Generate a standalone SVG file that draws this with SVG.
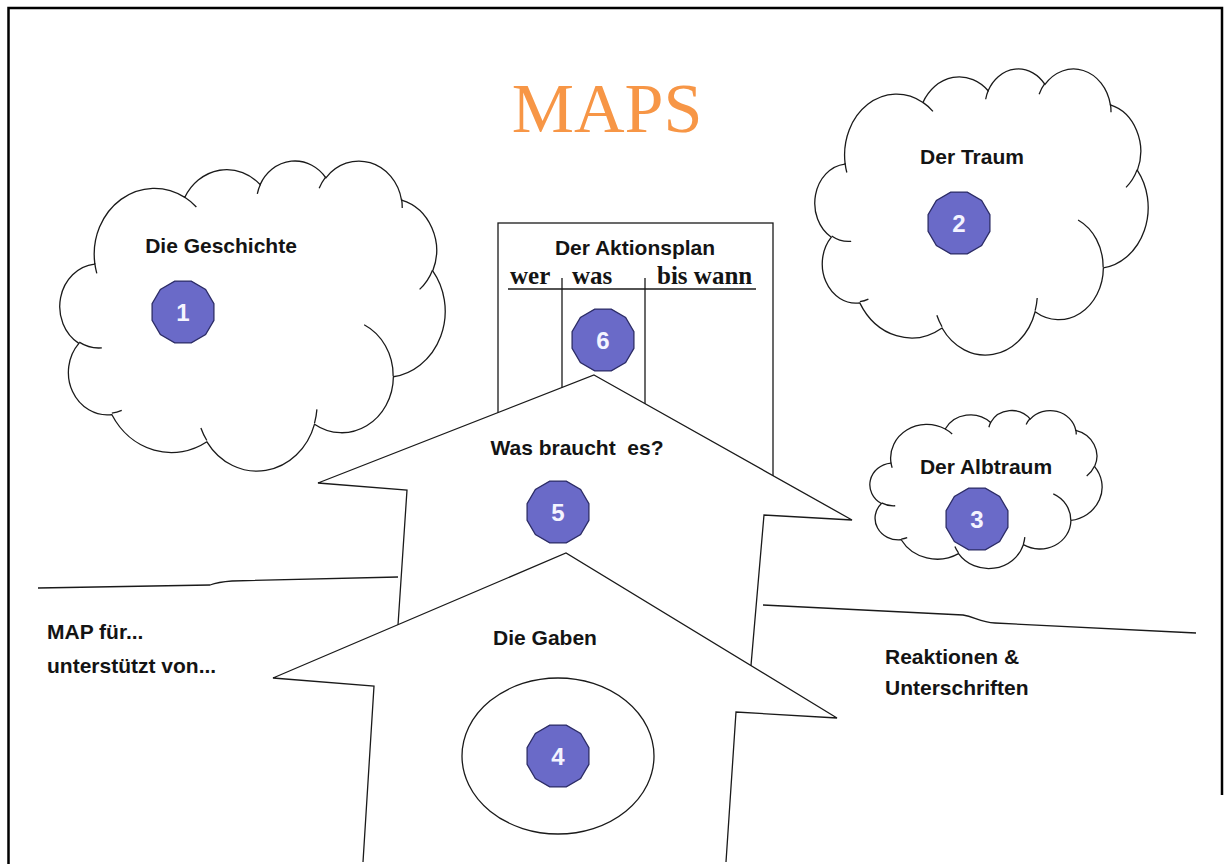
<svg xmlns="http://www.w3.org/2000/svg" width="1230" height="864" viewBox="0 0 1230 864">
<style>
.ln{fill:none;stroke:#1a1a1a;stroke-width:1.3}
.shape{fill:#fff;stroke:#1a1a1a;stroke-width:1.3}
.cl{fill:#fff;stroke:#1a1a1a;stroke-width:1.3}
.cli{fill:none;stroke:#1a1a1a;stroke-width:1.3}
.lbl{font-family:"Liberation Sans",Arial,sans-serif;font-weight:bold;font-size:21px;fill:#141414}
.lblm{font-family:"Liberation Sans",Arial,sans-serif;font-weight:bold;font-size:21px;fill:#141414;text-anchor:middle}
.num{font-family:"Liberation Sans",Arial,sans-serif;font-weight:bold;font-size:24px;fill:#f4f4ff;text-anchor:middle}
.badge{fill:#6a6ac8;stroke:#2c2c66;stroke-width:1.3}
.ser{font-family:"Liberation Serif","Times New Roman",serif;font-weight:bold;font-size:25px;fill:#141414}
</style>
<defs>
<polygon id="bd" class="badge" points="30.9,8.3 22.6,22.6 8.3,30.9 -8.3,30.9 -22.6,22.6 -30.9,8.3 -30.9,-8.3 -22.6,-22.6 -8.3,-30.9 8.3,-30.9 22.6,-22.6 30.9,-8.3"/>
<path id="cloudOuter" class="cl" vector-effect="non-scaling-stroke" d="M 3900 14370 A 6753 9190 0 0 1 14006 5203 A 5333 7267 0 0 1 22459 3434 A 4365 5945 0 0 1 29836 2483 A 4857 6595 0 0 1 38322 5578 A 5333 7273 0 0 1 41822 15462 A 6775 9220 0 0 1 37408 30204 A 5785 7867 0 0 1 28559 36814 A 6752 9215 0 0 1 16485 39269 A 7720 10543 0 0 1 5809 35476 A 4360 5918 0 0 1 2118 25554 A 4345 5945 0 0 1 3868 14511 Z"/>
<path id="cloudInner" class="cli" vector-effect="non-scaling-stroke" d="M 4693 26177 A 4345 5945 0 0 1 2159 25380 M 6928 34899 A 4360 5918 0 0 1 5820 35281 M 16478 39090 A 6752 9215 0 0 1 15809 37347 M 28827 34751 A 6752 9215 0 0 1 28561 36660 M 34129 22954 A 5785 7867 0 0 1 37380 30090 M 41798 15354 A 5333 7273 0 0 1 40350 18030 M 38324 5426 A 4857 6595 0 0 1 38400 6690 M 29078 3952 A 4857 6595 0 0 1 29820 2340 M 22141 4720 A 4365 5945 0 0 1 22500 3330 M 14000 5192 A 6753 9190 0 0 1 15301 6542 M 4127 15789 A 6753 9190 0 0 1 3901 14371"/>
</defs>
<rect x="0" y="0" width="1230" height="864" fill="#fff"/>
<path d="M 8.5 864 V 8 H 1222 V 795" fill="none" stroke="#000" stroke-width="2.5"/>

<g id="title">
<text x="607" y="132" text-anchor="middle" font-family="Liberation Serif,'Times New Roman',serif" font-size="70" fill="#f79646">MAPS</text>
</g>

<g id="connectors">
<path class="ln" d="M 38 588 L 210 585 Q 218 582 232 581 L 398 577"/>
<path class="ln" d="M 763 605 L 963 615 C 975 617 980 622 995 623 L 1196 633"/>
</g>

<g id="geschichte">
<g transform="translate(60,160) scale(0.0089120,0.0071759)">
<use href="#cloudOuter"/>
<use href="#cloudInner"/>
</g>
<text class="lblm" x="221" y="253">Die Geschichte</text>
<use href="#bd" x="183" y="312"/>
<text class="num" x="183" y="321">1</text>
</g>

<g id="traum">
<g transform="translate(815,68) scale(0.0077083,0.0066204)">
<use href="#cloudOuter"/>
<use href="#cloudInner"/>
</g>
<text class="lblm" x="972" y="164">Der Traum</text>
<use href="#bd" x="959" y="223"/>
<text class="num" x="959" y="232">2</text>
</g>

<g id="albtraum">
<g transform="translate(870,410) scale(0.0053704,0.0036574)">
<use href="#cloudOuter"/>
<use href="#cloudInner"/>
</g>
<text class="lblm" x="986" y="474">Der Albtraum</text>
<use href="#bd" x="977" y="519"/>
<text class="num" x="977" y="528">3</text>
</g>

<g id="aktionsplan">
<rect class="shape" x="498" y="223" width="275" height="280"/>
<text class="lblm" x="635" y="255">Der Aktionsplan</text>
<text class="ser" x="510" y="284">wer</text>
<text class="ser" x="572" y="284">was</text>
<text class="ser" x="657" y="284">bis wann</text>
<line class="ln" x1="508" y1="289" x2="756" y2="289" stroke-width="1.6"/>
<line class="ln" x1="562" y1="278" x2="562" y2="420"/>
<line class="ln" x1="645" y1="278" x2="645" y2="420"/>
<use href="#bd" x="603" y="340"/>
<text class="num" x="603" y="349">6</text>
</g>

<g id="was-braucht-es">
<polygon class="shape" points="594,375 852,520 764,515 748,700 393,700 407,490 318,483"/>
<text class="lblm" x="577" y="455" xml:space="preserve">Was braucht  es?</text>
<use href="#bd" x="558" y="512"/>
<text class="num" x="558" y="521">5</text>
</g>

<g id="gaben">
<polyline class="shape" points="363,862 374,686 273,678 566,553 837,718 736,712 726,862"/>
<text class="lblm" x="545" y="645">Die Gaben</text>
<ellipse class="shape" cx="558" cy="756" rx="96" ry="78"/>
<use href="#bd" x="558" y="756"/>
<text class="num" x="558" y="765">4</text>
</g>

<g id="map-fuer">
<text class="lbl" x="47" y="639">MAP für...</text>
<text class="lbl" x="47" y="673">unterstützt von...</text>
</g>

<g id="reaktionen">
<text class="lbl" x="885" y="664">Reaktionen &amp;</text>
<text class="lbl" x="885" y="695">Unterschriften</text>
</g>
</svg>
